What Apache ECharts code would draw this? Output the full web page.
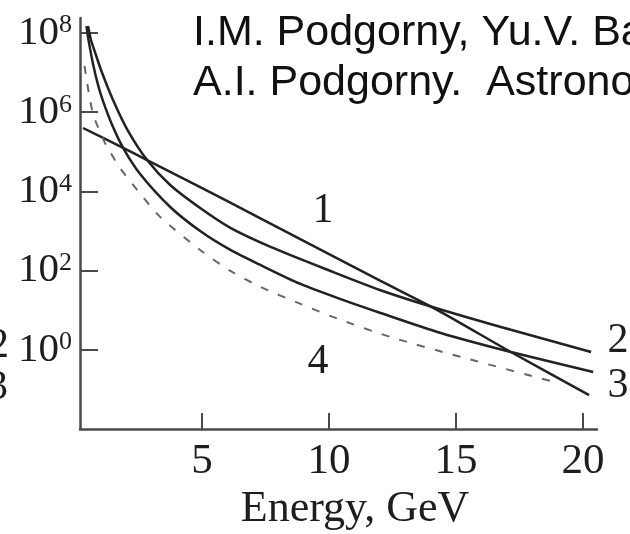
<!DOCTYPE html>
<html>
<head>
<meta charset="utf-8">
<script src="https://cdn.jsdelivr.net/npm/echarts@6/dist/echarts.min.js"></script>
<style>
  html, body { margin: 0; padding: 0; background: #fff; }
  #chart { width: 630px; height: 534px; }
</style>
</head>
<body>
<div id="chart"></div>
<script>
// Proton spectra vs energy (GeV), log intensity scale
const xTicks = [5, 10, 15, 20];
const yTicks = [1, 1e2, 1e4, 1e6, 1e8];

// curve 1
const x1 = [0.318, 1.896, 2.84, 4.93, 7.30, 10.06, 12.03, 14.2, 17.16, 20.24];
const y1 = [4.0e5, 1.26e5, 6.2e4, 1.29e4, 2.1e3, 250, 55, 10.7, 0.88, 0.072];

// curve 2
const x2 = [0.516, 0.634, 0.79, 1.028, 1.50, 2.09, 2.84, 3.75, 4.93, 6.12, 7.70, 10.06, 12.03, 14.2, 17.16, 20.32];
const y2 = [1.5e8, 6.6e7, 3.3e7, 1.17e7, 2.04e6, 3.37e5, 6.2e4, 1.45e4, 3.8e3, 1.2e3, 398, 98, 32, 11.4, 3.2, 0.88];

// curve 3
const x3 = [0.456, 0.516, 0.713, 0.91, 1.107, 1.462, 1.896, 2.567, 3.75, 4.93, 6.12, 7.30, 8.88, 10.46, 12.03, 14.4, 17.16, 20.4];
const y3 = [1.5e8, 7.9e7, 1.65e7, 4.9e6, 1.9e6, 4.8e5, 1.26e5, 2.75e4, 4.05e3, 1.0e3, 333, 139, 46, 19, 8.5, 2.66, 0.88, 0.275];

// curve 4 (dashed)
const x4 = [0.378, 0.476, 0.594, 0.752, 0.989, 1.226, 1.778, 2.449, 3.356, 4.93, 6.12, 7.30, 8.88, 10.46, 12.43, 15.19, 18.86];
const y4 = [1.48e7, 5.8e6, 2.04e6, 7.6e5, 3.2e5, 1.49e5, 3.9e4, 1.09e4, 2.28e3, 333, 98, 39, 14.4, 5.7, 2.1, 0.66, 0.155];

const pairs = (xs, ys) => xs.map((x, i) => [x, ys[i]]);

const serif = 'Liberation Serif';
const ink = '#1e1e1e';
const axisColor = '#4a4a4a';

const curve = (name, xs, ys, lineStyle) => ({
  name, type: 'line', data: pairs(xs, ys), smooth: 0.25,
  showSymbol: false, lineStyle, silent: true, animation: false
});

const chart = echarts.init(document.getElementById('chart'));
chart.setOption({
  animation: false,
  grid: { left: 80, right: 33, top: 18, bottom: 105, containLabel: false, outerBoundsMode: 'none' },
  xAxis: {
    type: 'value', min: 0.2, max: 20.55,
    axisLine: { lineStyle: { color: axisColor, width: 2.5 } },
    axisTick: { inside: true, length: 16, customValues: xTicks, lineStyle: { color: axisColor, width: 2 } },
    axisLabel: { customValues: xTicks, fontSize: 43, fontFamily: serif, color: ink, margin: 11 },
    splitLine: { show: false },
    name: 'Energy, GeV', nameLocation: 'middle', nameGap: 56,
    nameTextStyle: { fontSize: 44, fontFamily: serif, color: ink, padding: [0, 0, 0, 33] }
  },
  yAxis: {
    type: 'log', logBase: 10, min: 0.01, max: 2.4e8,
    axisLine: { lineStyle: { color: axisColor, width: 2.5 } },
    axisTick: { inside: true, length: 18, customValues: yTicks, lineStyle: { color: axisColor, width: 2 } },
    axisLabel: {
      customValues: yTicks, margin: 8,
      formatter: v => '{b|10}{s|' + Math.round(Math.log10(v)) + '}',
      rich: {
        b: { fontSize: 41, fontFamily: serif, color: ink, lineHeight: 41 },
        s: { fontSize: 26, fontFamily: serif, color: ink, verticalAlign: 'top', lineHeight: 26 }
      }
    },
    splitLine: { show: false }
  },
  series: [
    curve('1', x1, y1, { color: '#222', width: 2.5 }),
    curve('2', x2, y2, { color: '#222', width: 2.5 }),
    curve('3', x3, y3, { color: '#222', width: 2.5 }),
    curve('4', x4, y4, { color: '#666', width: 2, type: [8, 10.5] })
  ],
  graphic: [
    { type: 'text', left: 193, top: 12, style: { text: 'I.M. Podgorny, Yu.V. Balabin, E.V. Vashenyuk,', fontSize: 43, fontFamily: 'Liberation Sans', fill: '#111' } },
    { type: 'text', left: 193, top: 62, style: { text: 'A.I. Podgorny.  Astronomy Reports', fontSize: 43, fontFamily: 'Liberation Sans', fill: '#111' } },
    { type: 'text', x: 323, y: 211, style: { text: '1', fontSize: 42, fontFamily: serif, fill: ink, align: 'center', verticalAlign: 'middle' } },
    { type: 'text', x: 318, y: 362, style: { text: '4', fontSize: 42, fontFamily: serif, fill: ink, align: 'center', verticalAlign: 'middle' } },
    { type: 'text', x: 618, y: 341, style: { text: '2', fontSize: 42, fontFamily: serif, fill: ink, align: 'center', verticalAlign: 'middle' } },
    { type: 'text', x: 618, y: 386, style: { text: '3', fontSize: 42, fontFamily: serif, fill: ink, align: 'center', verticalAlign: 'middle' } },
    { type: 'text', x: 9, y: 346, style: { text: '2', fontSize: 42, fontFamily: serif, fill: ink, align: 'right', verticalAlign: 'middle' } },
    { type: 'text', x: 8, y: 388, style: { text: '3', fontSize: 42, fontFamily: serif, fill: ink, align: 'right', verticalAlign: 'middle' } }
  ]
});
</script>
</body>
</html>
